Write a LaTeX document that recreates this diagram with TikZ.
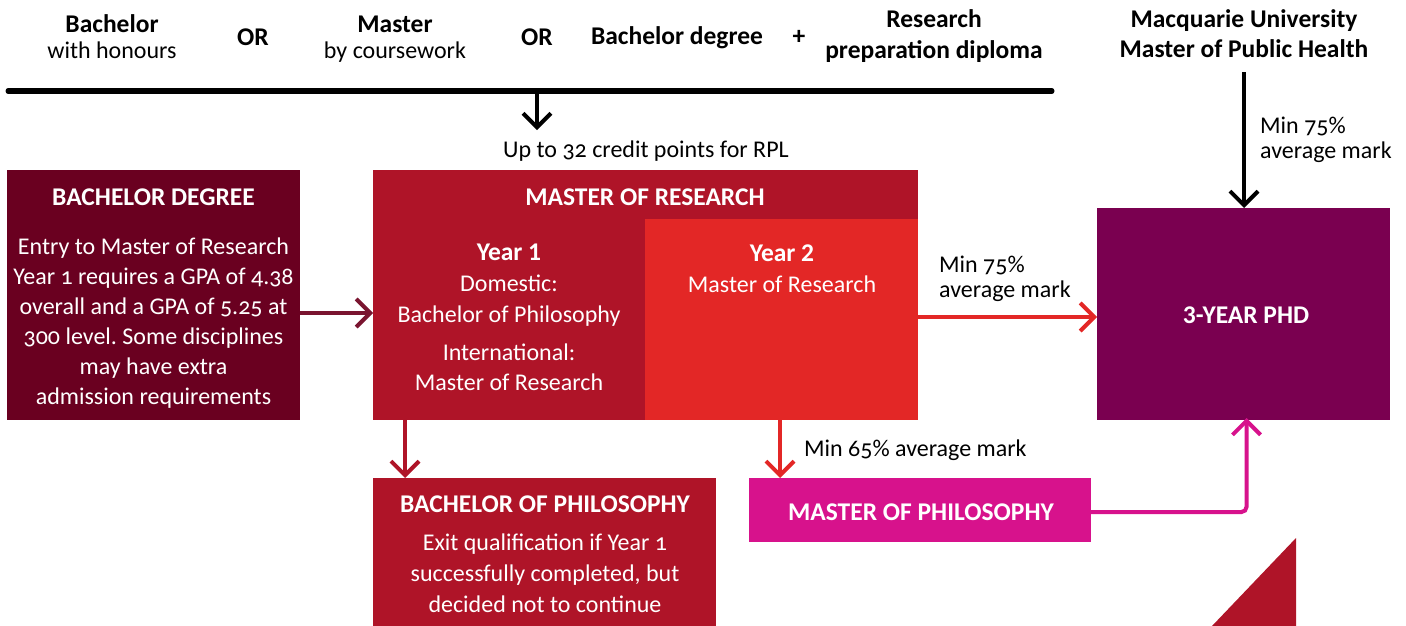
\documentclass[tikz,border=0pt]{standalone}
\usepackage{fontspec}
\setmainfont{Carlito}[Numbers=OldStyle, BoldFeatures={Numbers=Lining}]
\usetikzlibrary{arrows.meta}
\definecolor{cMaroon}{HTML}{6A0020}
\definecolor{cMaroonLine}{HTML}{7A1530}
\definecolor{cCrimson}{HTML}{AF1428}
\definecolor{cRed}{HTML}{E32726}
\definecolor{cPurple}{HTML}{7A0050}
\definecolor{cMagenta}{HTML}{D7128C}
\newcommand{\mlines}[1]{\begin{tabular}[t]{@{}c@{}}#1\end{tabular}}
\newcommand{\mlinesl}[1]{\begin{tabular}[t]{@{}l@{}}#1\end{tabular}}
\frenchspacing
\begin{document}
\begin{tikzpicture}[x=1pt,y=-1pt,
  box/.style={draw=none, inner sep=0pt, outer sep=0pt, anchor=north west},
  body/.style={inner sep=0pt, anchor=base, text=white, font=\fontsize{24}{30}\selectfont},
  title/.style={inner sep=0pt, anchor=base, text=white, font=\fontsize{25.5}{30}\selectfont\bfseries},
  dark/.style={inner sep=0pt, anchor=base, text=black, font=\fontsize{24}{30}\selectfont},
  darkb/.style={inner sep=0pt, anchor=base, text=black, font=\fontsize{25.5}{30}\selectfont\bfseries},
  lab/.style={inner sep=0pt, anchor=base west, text=black, font=\fontsize{24}{25}\selectfont},
  conn/.style={line width=4pt, -{Straight Barb[length=14pt,width=28pt]}},
]
\useasboundingbox (0,0) rectangle (1406,626);

% ---- top row ----
\node[darkb] (t1a) at (112,33) {Bachelor};
\node[dark]  (t1b) at (112,59) {with honours};
\node[darkb] (or1) at (253,46) {OR};
\node[darkb] (t2a) at (395,33) {Master};
\node[dark]  (t2b) at (395,59) {by coursework};
\node[darkb] (or2) at (537,46) {OR};
\node[darkb] (t3)  at (677,45) {Bachelor degree};
\node[darkb] (plus) at (799,45) {+};
\node[darkb] (t4a) at (934,28) {Research};
\node[darkb] (t4b) at (934,59) {preparation diploma};
\node[darkb] (mqa) at (1244,28) {Macquarie University};
\node[darkb] (mqb) at (1244,58) {Master of Public Health};

\coordinate (hlL) at (8,91);
\coordinate (hlR) at (1052,91);
\coordinate (hlM) at (537,91);
\draw[line width=5pt, line cap=round] (hlL) -- (hlR);
\node[dark] (rpl) at (646,157) {Up to 32 credit points for RPL};
\draw[conn] (hlM) -- ([yshift=10pt]hlM |- rpl.north);

% ---- boxes ----
\node[box, fill=cMaroon, minimum width=293pt, minimum height=250pt] (bd) at (7,170) {};
\node[box, fill=cCrimson, minimum width=545pt, minimum height=50pt] (mrh) at (373,170) {};
\node[box, fill=cCrimson, minimum width=272pt, minimum height=201pt] (mr1) at (373,219) {};
\node[box, fill=cRed, minimum width=273pt, minimum height=201pt] (mr2) at (645,219) {};
\node[box, fill=cPurple, minimum width=293pt, minimum height=212pt] (phd) at (1097,208) {};
\node[box, fill=cCrimson, minimum width=343pt, minimum height=160pt] (bop) at (373,478) {};
\node[box, fill=cMagenta, minimum width=342pt, minimum height=64pt] (mop) at (749,478) {};
\fill[cCrimson] (1212,626) -- (1296,538) -- (1296,626) -- cycle;

% ---- box texts ----
\node[title] (bdT) at (153.5,205) {BACHELOR DEGREE};
\node[body] (bdB) at (153.5,254) {\mlines{Entry to Master of Research\\Year 1 requires a GPA of 4.38\\overall and a GPA of 5.25 at\\300 level. Some disciplines\\may have extra\\admission requirements}};
\node[title] (mrT) at (645,205) {MASTER OF RESEARCH};
\node[title] (y1T) at (509,260) {Year 1};
\node[body] (y1a) at (509,291) {\fontsize{24}{31}\selectfont\mlines{Domestic:\\Bachelor of Philosophy}};
\node[body] (y1b) at (509,360) {\mlines{International:\\Master of Research}};
\node[title] (y2T) at (782,261) {Year 2};
\node[body] (y2a) at (782,292) {Master of Research};
\node[title] (phdT) at (1246,323) {3-YEAR PHD};
\node[title] (bopT) at (545,512) {BACHELOR OF PHILOSOPHY};
\node[body] (bopB) at (545,550) {\fontsize{24}{31}\selectfont\mlines{Exit qualification if Year 1\\successfully completed, but\\decided not to continue}};
\node[title] (mopT) at (921,520) {MASTER OF PHILOSOPHY};

% ---- connector labels ----
\node[lab] (l75a) at (1260,133) {\mlinesl{Min 75\%\\average mark}};
\node[lab] (l75b) at (939,272) {\mlinesl{Min 75\%\\average mark}};
\node[lab] (l65) at (804,456) {Min 65\% average mark};

% ---- connectors ----
\draw[conn] ([yshift=-14pt]mqb.south) -- (phd.north -| mqb.south);
\draw[conn, draw=cMaroonLine] (bd.east |- 0,313) -- (mr1.west |- 0,313);
\draw[conn, draw=cRed] (mr2.east |- 0,317) -- (phd.west |- 0,317);
\draw[conn, draw=cCrimson] ([xshift=32pt]mr1.south west) -- ([xshift=32pt]mr1.south west |- bop.north);
\draw[conn, draw=cRed] ([xshift=135pt]mr2.south west) -- ([xshift=135pt]mr2.south west |- mop.north);
\draw[conn, draw=cMagenta, rounded corners=5pt] (mop.east |- 0,512) -| ([xshift=3pt,yshift=2pt]phd.south);
\end{tikzpicture}
\end{document}
